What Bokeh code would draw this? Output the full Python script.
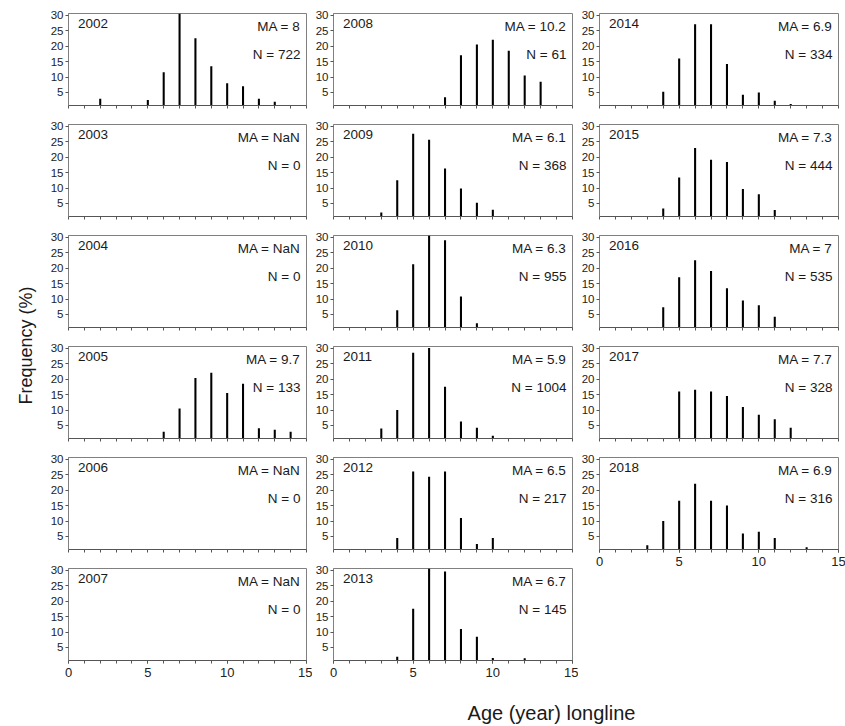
import math
from bokeh.plotting import figure
from bokeh.models import FixedTicker, Label, Range1d
from bokeh.layouts import row, column
from bokeh.embed import file_html
from bokeh.resources import INLINE
from bokeh.core.properties import value

FONT = "Liberation Sans"

# ---------------- data ----------------
years = [2002, 2003, 2004, 2005, 2006, 2007,
         2008, 2009, 2010, 2011, 2012, 2013,
         2014, 2015, 2016, 2017, 2018]
ma_labels = ["8", "NaN", "NaN", "9.7", "NaN", "NaN",
             "10.2", "6.1", "6.3", "5.9", "6.5", "6.7",
             "6.9", "7.3", "7", "7.7", "6.9"]
n_labels = [722, 0, 0, 133, 0, 0,
            61, 368, 955, 1004, 217, 145,
            334, 444, 535, 328, 316]

ages_2002 = [2, 5, 6, 7, 8, 9, 10, 11, 12, 13]
freq_2002 = [3.0, 2.6, 11.5, 30.5, 22.5, 13.5, 8.0, 7.0, 3.0, 2.0]
ages_2003, freq_2003 = [], []
ages_2004, freq_2004 = [], []
ages_2005 = [6, 7, 8, 9, 10, 11, 12, 13, 14]
freq_2005 = [3.0, 10.5, 20.3, 22.0, 15.5, 18.5, 4.1, 3.6, 3.0]
ages_2006, freq_2006 = [], []
ages_2007, freq_2007 = [], []
ages_2008 = [7, 8, 9, 10, 11, 12, 13]
freq_2008 = [3.5, 17.0, 20.5, 22.0, 18.5, 10.5, 8.5]
ages_2009 = [3, 4, 5, 6, 7, 8, 9, 10]
freq_2009 = [2.1, 12.5, 27.5, 25.6, 16.3, 9.8, 5.2, 3.0]
ages_2010 = [4, 5, 6, 7, 8, 9]
freq_2010 = [6.4, 21.2, 30.5, 29.0, 10.8, 2.2]
ages_2011 = [3, 4, 5, 6, 7, 8, 9, 10]
freq_2011 = [4.0, 10.0, 28.5, 30.0, 17.5, 6.3, 4.3, 1.7]
ages_2012 = [4, 5, 6, 7, 8, 9, 10]
freq_2012 = [4.5, 26.0, 24.3, 26.0, 11.0, 2.6, 4.5]
ages_2013 = [4, 5, 6, 7, 8, 9, 10, 12]
freq_2013 = [2.0, 17.5, 30.5, 29.5, 11.0, 8.5, 1.6, 1.5]
ages_2014 = [4, 5, 6, 7, 8, 9, 10, 11, 12]
freq_2014 = [5.2, 16.0, 27.0, 27.0, 14.2, 4.3, 5.0, 2.3, 1.3]
ages_2015 = [4, 5, 6, 7, 8, 9, 10, 11]
freq_2015 = [3.4, 13.4, 22.9, 19.1, 18.4, 9.7, 8.0, 2.9]
ages_2016 = [4, 5, 6, 7, 8, 9, 10, 11]
freq_2016 = [7.3, 17.0, 22.5, 19.0, 13.5, 9.5, 8.0, 4.3]
ages_2017 = [5, 6, 7, 8, 9, 10, 11, 12]
freq_2017 = [16.0, 16.5, 16.0, 14.5, 11.0, 8.5, 7.0, 4.3]
ages_2018 = [3, 4, 5, 6, 7, 8, 9, 10, 11, 13]
freq_2018 = [2.2, 10.0, 16.5, 22.0, 16.5, 15.0, 6.0, 6.5, 4.5, 1.5]

ages_list = [ages_2002, ages_2003, ages_2004, ages_2005, ages_2006, ages_2007,
             ages_2008, ages_2009, ages_2010, ages_2011, ages_2012, ages_2013,
             ages_2014, ages_2015, ages_2016, ages_2017, ages_2018]
freq_list = [freq_2002, freq_2003, freq_2004, freq_2005, freq_2006, freq_2007,
             freq_2008, freq_2009, freq_2010, freq_2011, freq_2012, freq_2013,
             freq_2014, freq_2015, freq_2016, freq_2017, freq_2018]

x_ticks = [0, 5, 10, 15]
x_minor_ticks = list(range(16))
y_ticks = [5, 10, 15, 20, 25, 30]
y_label = "Frequency (%)"
x_label = "Age (year) longline"

# ---------------- layout constants ----------------
FRAME_H = 92
Y0, Y1 = 0.8, 30.5
GRAY = "#808080"


def make_panel(i, col, first, bottom):
    left = 28 if col == 0 else 19
    right = 8 if col == 2 else 6
    fw = 238 if col == 0 else 239
    top = 13 if first else 11
    bot = 35 if bottom else 8
    p = figure(frame_width=fw, frame_height=FRAME_H,
               x_range=Range1d(0, 15), y_range=Range1d(Y0, Y1),
               min_border_left=left, min_border_right=right,
               min_border_top=top, min_border_bottom=bot,
               output_backend="svg", toolbar_location=None,
               background_fill_color="white", border_fill_color="white",
               outline_line_color=GRAY, outline_line_width=1)
    p.grid.visible = False
    p.vbar(x=ages_list[i], top=freq_list[i], bottom=0, width=0.13,
           fill_color="black", line_color=None)

    xa = p.xaxis[0]
    if bottom:
        xa.ticker = FixedTicker(ticks=x_ticks, minor_ticks=x_minor_ticks)
        xa.major_label_text_font_size = "13px"
        xa.major_label_standoff = 4
        xa.major_label_text_color = "#222222"
        xa.major_label_text_font = FONT
    else:
        # only integer tick marks, no labels
        xa.ticker = FixedTicker(ticks=[], minor_ticks=x_minor_ticks)
        xa.major_label_standoff = 0
    xa.major_tick_out = 3
    xa.minor_tick_out = 3
    xa.major_tick_in = 0
    xa.minor_tick_in = 0
    xa.axis_line_color = "#555555"
    xa.major_tick_line_color = "#555555"
    xa.minor_tick_line_color = "#555555"

    ya = p.yaxis[0]
    ya.ticker = FixedTicker(ticks=y_ticks)
    ya.major_tick_out = 3
    ya.major_tick_in = 0
    ya.axis_line_color = GRAY
    ya.major_tick_line_color = "#555555"
    ya.major_label_standoff = 2
    ya.major_label_text_font_size = "11.5px"
    ya.major_label_text_font = FONT
    ya.major_label_text_color = "#222222"

    px_per_unit = FRAME_H / (Y1 - Y0)
    ytop = Y1 - 5.0 / px_per_unit
    yn = Y1 - 33.5 / px_per_unit
    common = dict(text_font=FONT, text_font_size="13.5px", text_color="#1a1a1a",
                  text_baseline="top")
    p.add_layout(Label(x=0.6, y=ytop, text=str(years[i]), text_align="left", **common))
    p.add_layout(Label(x=14.62, y=ytop, text="MA = " + ma_labels[i], text_align="right", **common))
    p.add_layout(Label(x=14.62, y=yn, text="N = " + str(n_labels[i]), text_align="right", **common))
    return p


cols = []
col_idx = [list(range(0, 6)), list(range(6, 12)), list(range(12, 17))]
for c, idxs in enumerate(col_idx):
    figs = []
    for k, i in enumerate(idxs):
        figs.append(make_panel(i, c, k == 0, k == len(idxs) - 1))
    cols.append(column(*figs))

H = 13 + FRAME_H + 8 + 4 * (11 + FRAME_H + 8) + (11 + FRAME_H + 35)

yl = figure(width=40, height=H, x_range=Range1d(0, 40), y_range=Range1d(0, H),
            min_border=0, output_backend="svg", toolbar_location=None,
            x_axis_type=None, y_axis_type=None, outline_line_color=None)
yl.grid.visible = False
yl.text(x=[25], y=[H - 345], text=[y_label], angle=math.pi / 2,
        text_align="center", text_baseline="middle",
        text_font=value(FONT), text_font_size="18px", text_color="#1a1a1a")

XH = 726 - H
xl = figure(width=842, height=XH, x_range=Range1d(0, 842), y_range=Range1d(0, XH),
            min_border=0, output_backend="svg", toolbar_location=None,
            x_axis_type=None, y_axis_type=None, outline_line_color=None)
xl.grid.visible = False
xl.text(x=[551], y=[XH - 17], text=[x_label],
        text_align="center", text_baseline="middle",
        text_font=value(FONT), text_font_size="20px", text_color="#1a1a1a")

layout = column(row(yl, *cols), xl)

open("out.html", "w").write(file_html(layout, INLINE))
